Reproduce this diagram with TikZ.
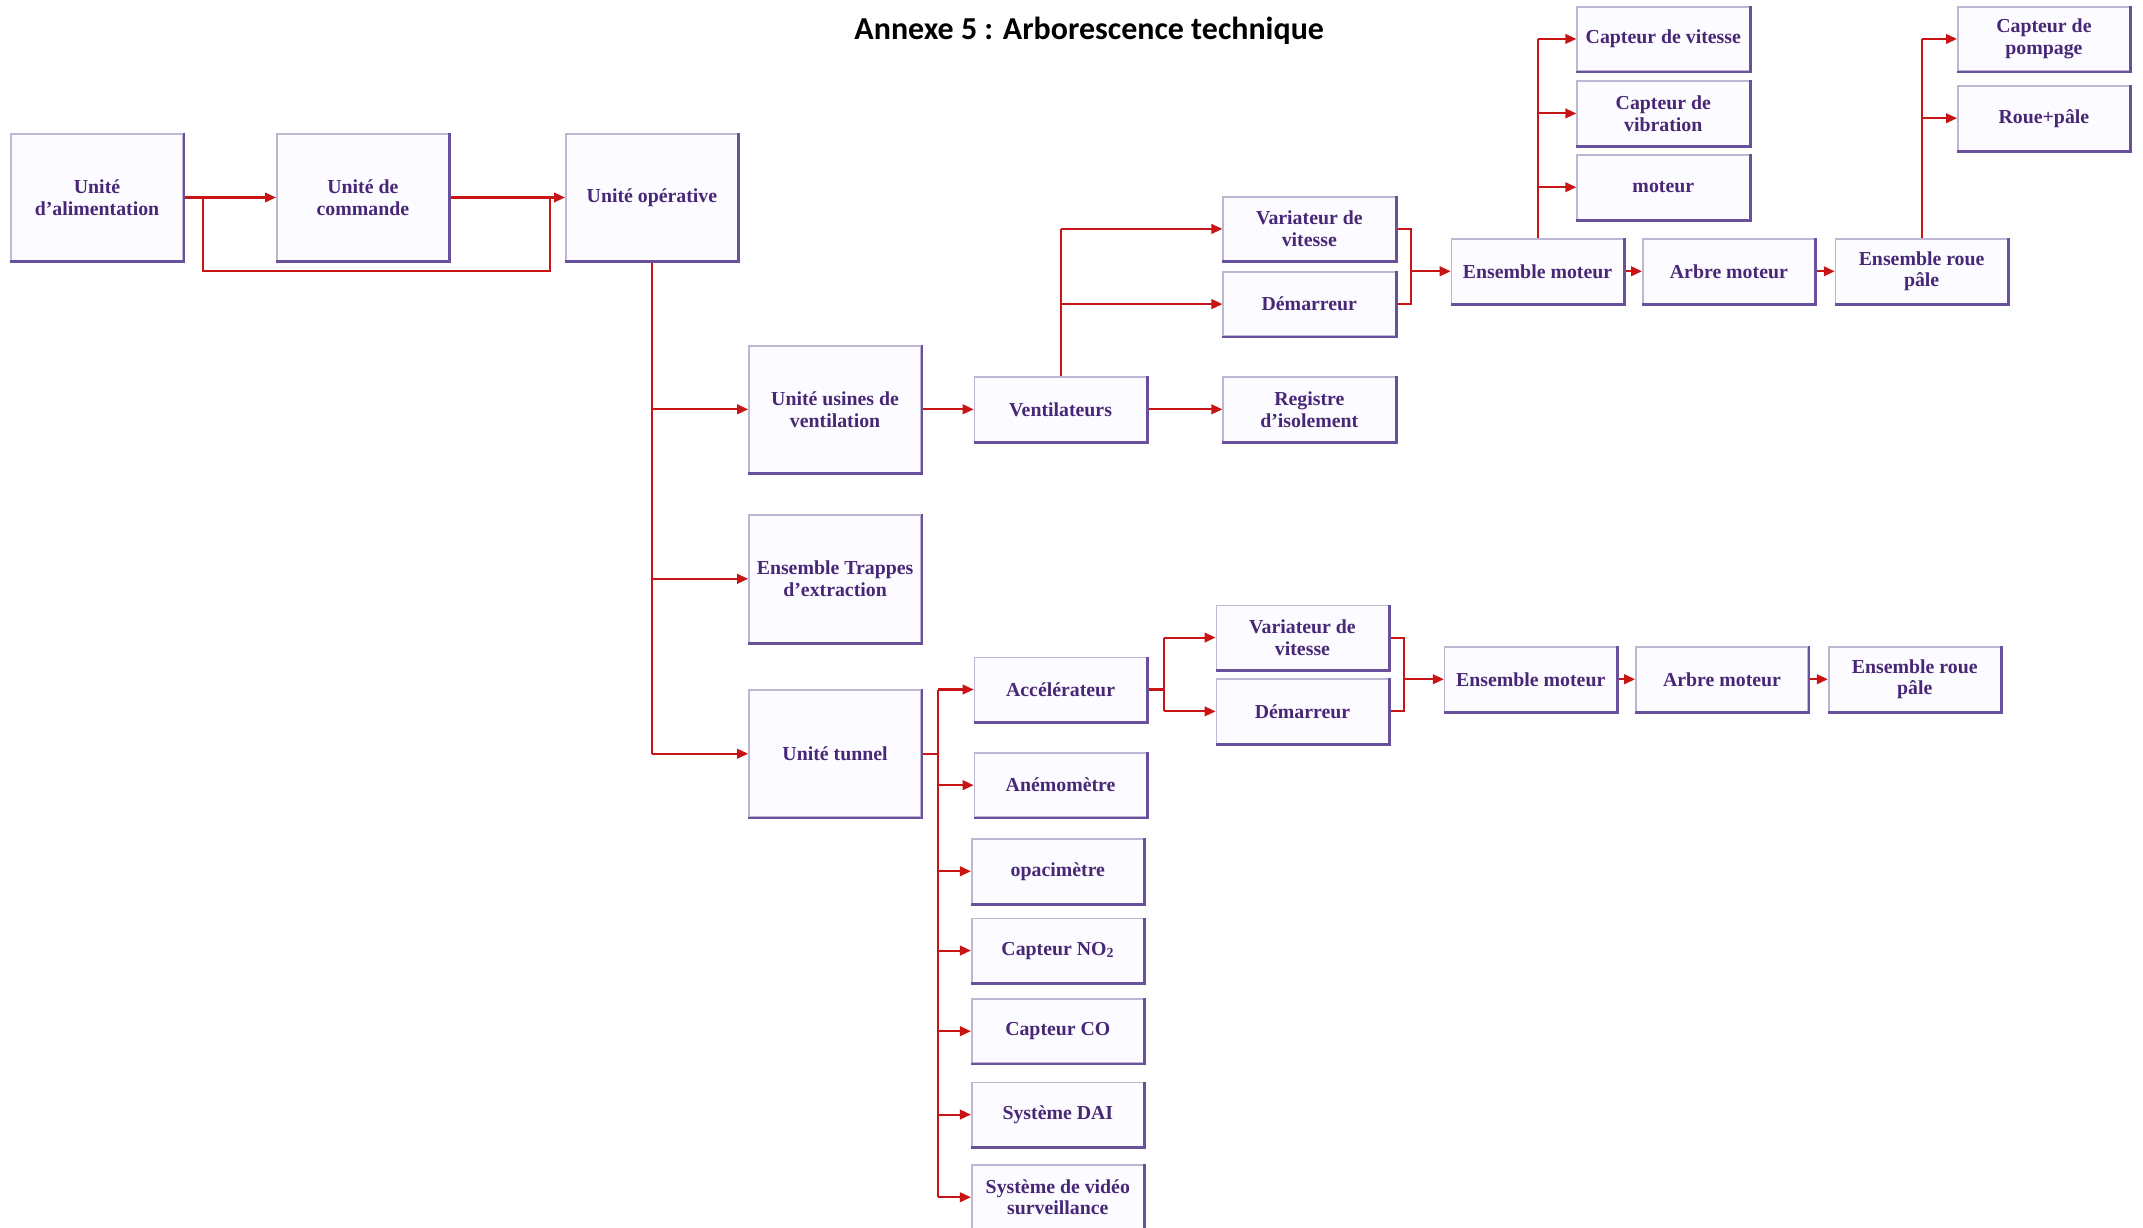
\documentclass[tikz,border=0pt]{standalone}
\usepackage{fontspec}
\setmainfont{Liberation Serif}
\newfontfamily\titlefont{Carlito}
\usetikzlibrary{arrows.meta}
\definecolor{boxfill}{RGB}{252,251,255}
\definecolor{boxlight}{RGB}{190,182,210}
\definecolor{boxdark}{RGB}{105,80,155}
\definecolor{txtpurple}{RGB}{72,40,118}
\definecolor{wirered}{RGB}{200,20,20}
\tikzset{
  box/.style={draw=boxlight, line width=1.2pt, fill=boxfill, minimum width=126pt, minimum height=47pt,
    inner sep=2pt, align=center, text=txtpurple, font=\bfseries\fontsize{14.5}{16}\selectfont},
  bigbox/.style={box, minimum height=93pt},
  darkedge/.style={draw=boxdark, line width=2pt},
  wire/.style={draw=wirered, line width=1.5pt},
  arr/.style={wire, -{Triangle[length=8pt,width=7pt]}},
}
\begin{document}
\begin{tikzpicture}[x=1pt,y=-1pt]
\useasboundingbox (0,0) rectangle (1568,898.5);
\node[font=\titlefont\bfseries\fontsize{23.4}{28}\selectfont] (title) at (797,22.5) {Annexe 5 : Arborescence technique};
% top row
\node[bigbox] (alim) at (71,144.5) {Unité\\d'alimentation};
\node[bigbox] (cmd) at (265.5,144.5) {Unité de\\commande};
\node[bigbox] (op) at (477,144.5) {Unité opérative};
\draw[arr] (alim.east) -- (cmd.west);
\draw[arr] (cmd.east) -- (op.west);
\draw[wire] ([xshift=14pt]alim.east) -- ++(0,53.5) -| ([xshift=-11pt]op.west);
% second level
\node[bigbox] (usn) at (611,299.5) {Unité usines de\\ventilation};
\node[bigbox] (trap) at (611,423.5) {Ensemble Trappes\\d'extraction};
\node[bigbox] (tun) at (611,551.5) {Unité tunnel};
\draw[wire] (op.south) -- (op.south |- tun.west);
\draw[arr] (op.south |- usn.west) -- (usn.west);
\draw[arr] (op.south |- trap.west) -- (trap.west);
\draw[arr] (op.south |- tun.west) -- (tun.west);
% ventilation branch
\node[box] (vent) at (776,299.5) {Ventilateurs};
\node[box] (reg) at (958,299.5) {Registre\\d'isolement};
\node[box] (var1) at (958,167.5) {Variateur de\\vitesse};
\node[box] (dem1) at (958,222.5) {Démarreur};
\node[box] (em1) at (1125,198.5) {Ensemble moteur};
\node[box] (am1) at (1265,198.5) {Arbre moteur};
\node[box] (erp1) at (1406,198.5) {Ensemble roue\\pâle};
\node[box] (cv) at (1217,28.5) {Capteur de vitesse};
\node[box] (cvib) at (1217,83) {Capteur de\\vibration};
\node[box] (mot) at (1217,137) {moteur};
\node[box] (cp) at (1495.5,28.5) {Capteur de\\pompage};
\node[box] (rp) at (1495.5,86.5) {Roue+pâle};
\draw[arr] (usn.east) -- (vent.west);
\draw[arr] (vent.east) -- (reg.west);
\draw[wire] (vent.north) -- (vent.north |- var1.west);
\draw[arr] (vent.north |- var1.west) -- (var1.west);
\draw[arr] (vent.north |- dem1.west) -- (dem1.west);
\draw[wire] (var1.east) -- ++(11,0) |- (dem1.east);
\draw[arr] ([xshift=11pt]var1.east |- em1.west) -- (em1.west);
\draw[arr] (em1.east) -- (am1.west);
\draw[arr] (am1.east) -- (erp1.west);
\draw[wire] (em1.north) -- (em1.north |- cv.west);
\draw[arr] (em1.north |- cv.west) -- (cv.west);
\draw[arr] (em1.north |- cvib.west) -- (cvib.west);
\draw[arr] (em1.north |- mot.west) -- (mot.west);
\draw[wire] (erp1.north) -- (erp1.north |- cp.west);
\draw[arr] (erp1.north |- cp.west) -- (cp.west);
\draw[arr] (erp1.north |- rp.west) -- (rp.west);
% tunnel branch
\node[box] (acc) at (776,504.5) {Accélérateur};
\node[box] (ane) at (776,574.5) {Anémomètre};
\node[box] (opa) at (774,637.5) {opacimètre};
\node[box] (no2) at (774,695.5) {Capteur NO\textsubscript{2}};
\node[box] (co) at (774,754.5) {Capteur CO};
\node[box] (dai) at (774,815.5) {Système DAI};
\node[box] (vid) at (774,876) {Système de vidéo\\surveillance};
\coordinate (bus) at ([xshift=12pt]tun.east);
\draw[wire] (tun.east) -- (bus);
\draw[wire] (bus |- acc.west) -- (bus |- vid.west);
\draw[arr] (bus |- acc.west) -- (acc.west);
\draw[arr] (bus |- ane.west) -- (ane.west);
\draw[arr] (bus |- opa.west) -- (opa.west);
\draw[arr] (bus |- no2.west) -- (no2.west);
\draw[arr] (bus |- co.west) -- (co.west);
\draw[arr] (bus |- dai.west) -- (dai.west);
\draw[arr] (bus |- vid.west) -- (vid.west);
\node[box] (var2) at (953,466.5) {Variateur de\\vitesse};
\node[box] (dem2) at (953,520.5) {Démarreur};
\node[box] (em2) at (1120,497) {Ensemble moteur};
\node[box] (am2) at (1260,497) {Arbre moteur};
\node[box] (erp2) at (1401,497) {Ensemble roue\\pâle};
\coordinate (bus2) at ([xshift=12pt]acc.east);
\draw[wire] (acc.east) -- (bus2);
\draw[wire] (bus2 |- var2.west) -- (bus2 |- dem2.west);
\draw[arr] (bus2 |- var2.west) -- (var2.west);
\draw[arr] (bus2 |- dem2.west) -- (dem2.west);
\draw[wire] (var2.east) -- ++(11,0) |- (dem2.east);
\draw[arr] ([xshift=11pt]var2.east |- em2.west) -- (em2.west);
\draw[arr] (em2.east) -- (am2.west);
\draw[arr] (am2.east) -- (erp2.west);
% darker right and bottom edges of the boxes
\foreach \n in {alim,cmd,op,usn,trap,tun,vent,reg,var1,dem1,em1,am1,erp1,cv,cvib,mot,cp,rp,
  acc,ane,opa,no2,co,dai,vid,var2,dem2,em2,am2,erp2}
  \draw[darkedge] (\n.north east) -- (\n.south east) -- (\n.south west);
\end{tikzpicture}
\end{document}
